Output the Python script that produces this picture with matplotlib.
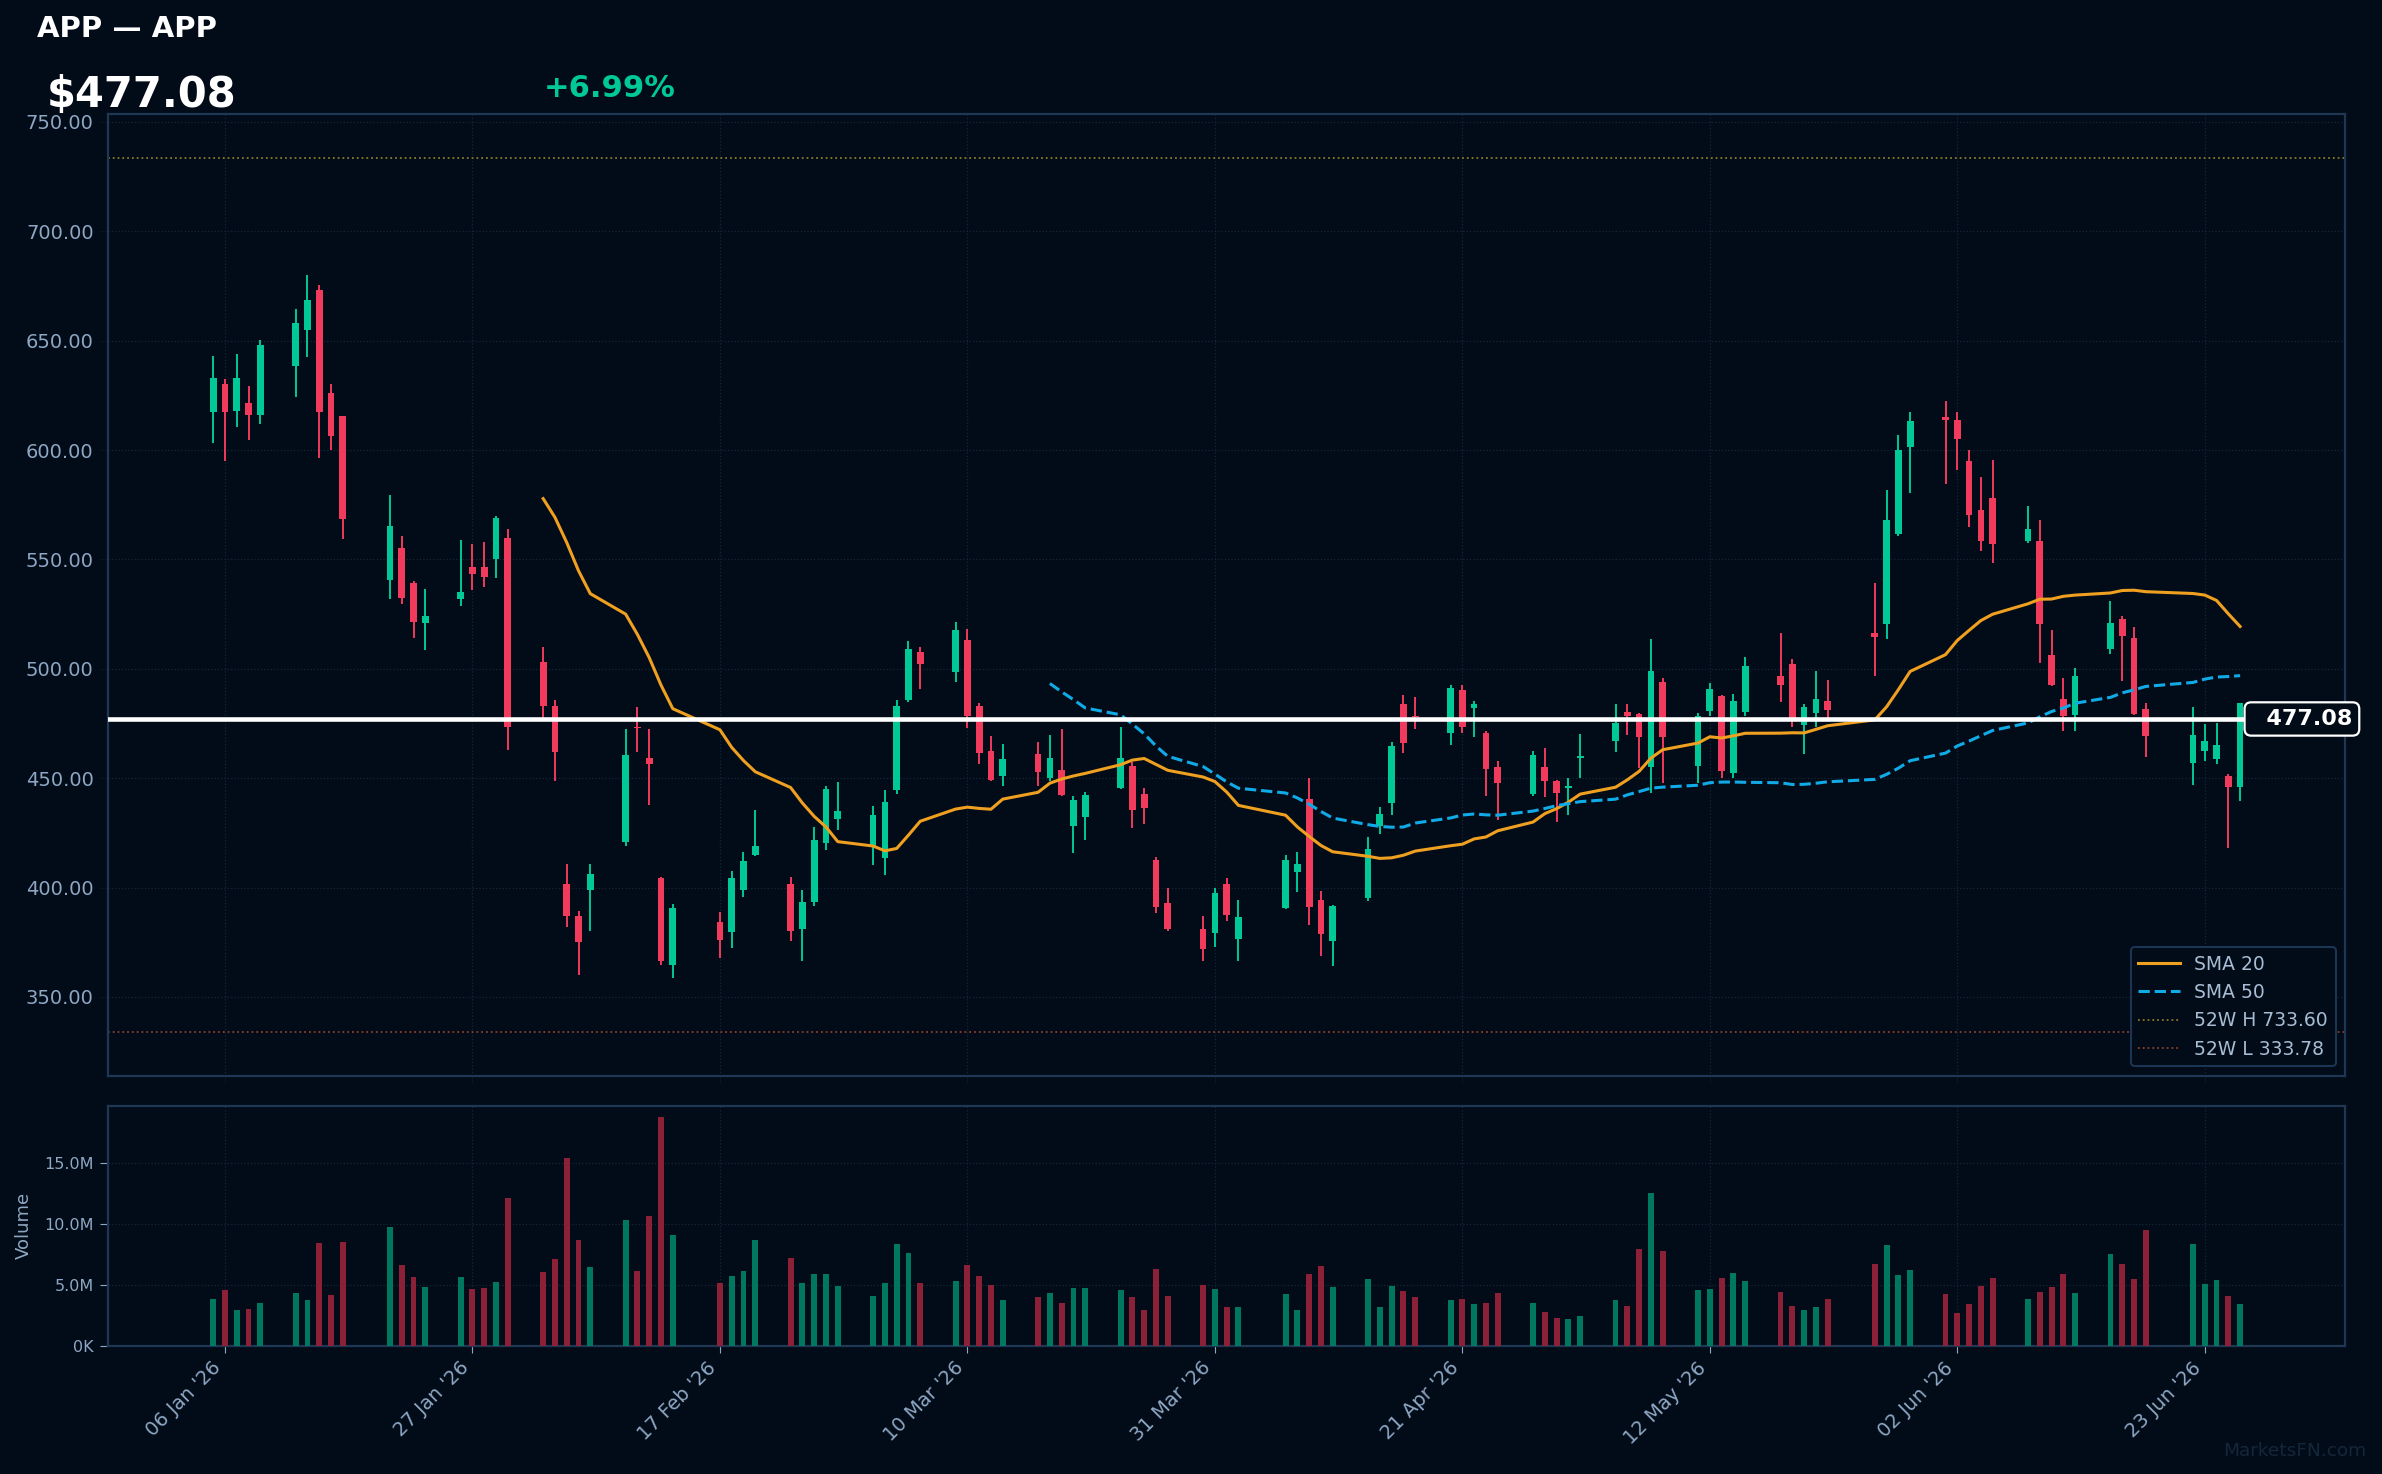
import numpy as np
import pandas as pd
import matplotlib
matplotlib.use("Agg")
import matplotlib.pyplot as plt
import matplotlib.dates as mdates
import matplotlib.transforms as mtransforms
from matplotlib.ticker import FuncFormatter, FixedLocator

# ---------------- data ----------------
TICKER = "APP"
LAST_PRICE = 477.08
CHANGE_PCT = 6.99
HIGH_52W = 733.60
LOW_52W = 333.78
HOLIDAYS = ["2026-01-19", "2026-02-16", "2026-04-03", "2026-05-25", "2026-06-19"]
START, END = "2026-01-05", "2026-06-26"

OPEN = [617.5, 630.1, 617.8, 621.7, 616.2, 638.6, 655.1, 673.0, 626.3, 615.4,
        540.7, 555.1, 539.1, 521.1, 531.7, 546.7, 546.7, 550.0, 559.6, 502.9,
        483.2, 401.8, 386.9, 399.1, 420.9, 473.5, 459.3, 404.3, 364.5, 384.1,
        379.7, 399.1, 414.8, 401.5, 381.0, 393.4, 420.5, 431.5, 418.7, 413.6,
        444.6, 485.9, 507.5, 498.5, 513.0, 483.2, 462.5, 450.8, 461.2, 450.3,
        453.8, 428.3, 432.4, 445.7, 455.7, 442.8, 412.5, 392.8, 380.9, 379.2,
        401.8, 376.3, 390.7, 407.2, 440.5, 394.2, 375.5, 395.3, 428.3, 438.8,
        484.1, 478.4, 470.5, 490.1, 482.0, 470.8, 455.2, 443.0, 455.2, 448.6,
        445.4, 459.3, 466.8, 480.4, 479.5, 454.9, 494.2, 455.8, 480.6, 487.8,
        452.6, 480.1, 496.9, 502.0, 474.2, 480.0, 485.5, 516.2, 520.5, 561.7,
        601.2, 615.3, 613.9, 595.1, 572.7, 578.2, 558.5, 558.5, 506.2, 486.1,
        478.9, 509.2, 522.7, 514.0, 481.5, 456.9, 462.4, 458.6, 450.8, 445.9]
HIGH = [643.0, 632.4, 643.8, 629.1, 650.2, 664.4, 679.9, 675.3, 630.1, 615.8,
        579.3, 560.5, 540.2, 536.3, 558.7, 556.9, 558.2, 570.0, 563.7, 509.8,
        485.9, 410.7, 389.1, 410.7, 472.6, 482.6, 472.5, 405.0, 392.4, 388.7,
        407.5, 416.2, 435.5, 404.7, 398.8, 427.7, 446.5, 448.3, 437.3, 444.5,
        485.9, 512.5, 510.2, 521.3, 518.0, 484.4, 469.4, 465.7, 466.7, 469.9,
        472.6, 441.9, 443.7, 473.5, 457.2, 445.6, 413.9, 399.7, 386.9, 399.7,
        404.3, 394.2, 414.8, 416.2, 450.2, 398.3, 392.2, 423.1, 436.9, 466.7,
        488.2, 487.3, 492.4, 492.8, 485.5, 471.7, 458.0, 462.5, 463.9, 449.1,
        450.2, 470.3, 484.1, 484.1, 480.0, 513.5, 496.0, 480.0, 493.7, 488.2,
        488.7, 505.5, 516.2, 504.7, 484.1, 499.2, 495.1, 539.2, 581.8, 607.0,
        617.6, 622.6, 617.6, 600.0, 587.8, 595.6, 574.5, 568.1, 517.7, 495.7,
        500.3, 531.0, 524.1, 519.1, 484.3, 482.4, 474.8, 475.3, 452.1, 484.6]
LOW = [603.4, 594.9, 610.6, 604.7, 612.1, 624.3, 642.6, 596.6, 600.2, 559.5,
       532.0, 529.7, 514.2, 508.7, 528.8, 536.1, 537.4, 541.7, 462.9, 476.8,
       448.5, 381.9, 359.9, 380.1, 419.1, 461.8, 437.9, 364.5, 358.6, 367.7,
       372.3, 395.7, 414.5, 375.5, 366.4, 391.6, 417.1, 426.3, 410.2, 405.7,
       442.8, 484.7, 491.0, 493.9, 472.8, 456.7, 448.5, 446.6, 446.6, 448.5,
       442.0, 415.9, 421.9, 445.0, 427.4, 429.2, 388.4, 380.1, 366.4, 372.8,
       384.7, 366.4, 390.0, 398.0, 382.7, 368.7, 364.1, 393.9, 424.6, 433.3,
       461.3, 472.3, 465.3, 470.5, 468.7, 442.0, 431.0, 442.0, 441.6, 430.1,
       433.3, 450.3, 461.8, 469.6, 454.6, 443.1, 447.6, 447.9, 478.3, 450.3,
       450.3, 478.3, 484.7, 473.2, 460.9, 473.2, 476.8, 496.8, 513.6, 560.5,
       580.6, 584.7, 590.7, 565.0, 554.0, 548.5, 557.3, 502.7, 492.2, 471.6,
       471.6, 506.9, 494.5, 478.9, 459.7, 446.9, 457.9, 456.5, 418.0, 439.8]
CLOSE = [633.0, 617.2, 633.0, 616.2, 648.0, 658.3, 668.5, 617.5, 606.5, 568.6,
         565.5, 532.5, 521.4, 524.3, 535.3, 543.5, 542.0, 569.1, 473.2, 482.9,
         461.8, 387.0, 375.1, 406.4, 460.7, 472.8, 456.7, 366.4, 390.5, 376.0,
         404.3, 412.1, 419.0, 380.1, 393.3, 421.7, 445.1, 435.0, 433.2, 439.1,
         483.2, 508.9, 502.1, 517.6, 478.3, 461.3, 449.2, 458.9, 452.9, 459.3,
         442.4, 440.1, 442.4, 459.3, 435.6, 436.5, 391.1, 381.0, 371.9, 397.7,
         387.5, 386.4, 412.5, 410.7, 391.1, 378.7, 391.4, 417.6, 433.6, 464.8,
         465.9, 477.9, 491.4, 473.2, 484.1, 454.0, 448.0, 460.7, 448.9, 443.4,
         446.5, 460.2, 475.4, 478.3, 468.7, 499.2, 468.7, 478.6, 491.0, 453.5,
         485.5, 501.5, 492.5, 476.8, 482.7, 486.4, 481.3, 514.4, 568.1, 600.2,
         613.4, 613.6, 605.2, 570.4, 558.5, 557.1, 564.0, 520.5, 492.5, 478.5,
         496.6, 520.9, 515.1, 479.4, 469.3, 469.8, 467.0, 465.2, 445.9, 484.2]
VOLUME_M = [3.84, 4.58, 2.93, 3.02, 3.51, 4.33, 3.76, 8.45, 4.17, 8.53,
            9.76, 6.64, 5.65, 4.83, 5.65, 4.66, 4.74, 5.24, 12.15, 6.06,
            7.13, 15.44, 8.69, 6.47, 10.34, 6.14, 10.67, 18.81, 9.10, 5.15,
            5.73, 6.14, 8.69, 7.21, 5.15, 5.90, 5.90, 4.91, 4.09, 5.15,
            8.36, 7.62, 5.15, 5.32, 6.64, 5.73, 4.96, 3.76, 4.00, 4.33,
            3.51, 4.74, 4.74, 4.58, 4.00, 2.93, 6.31, 4.09, 4.99, 4.66,
            3.18, 3.18, 4.25, 2.93, 5.90, 6.55, 4.83, 5.48, 3.18, 4.91,
            4.50, 4.00, 3.76, 3.84, 3.43, 3.51, 4.33, 3.51, 2.77, 2.28,
            2.19, 2.44, 3.76, 3.26, 7.95, 12.56, 7.79, 4.58, 4.66, 5.57,
            5.98, 5.32, 4.41, 3.26, 2.93, 3.18, 3.84, 6.72, 8.28, 5.81,
            6.22, 4.25, 2.69, 3.43, 4.91, 5.57, 3.84, 4.41, 4.83, 5.90,
            4.33, 7.54, 6.72, 5.48, 9.51, 8.36, 5.07, 5.40, 4.09, 3.43]
DATE_TICKS = ["2026-01-06", "2026-01-27", "2026-02-17", "2026-03-10", "2026-03-31",
              "2026-04-21", "2026-05-12", "2026-06-02", "2026-06-23"]
PRICE_TICKS = [350, 400, 450, 500, 550, 600, 650, 700, 750]
VOL_TICKS_M = [0, 5, 10, 15]

# ---------------- styling ----------------
BG = "#020c18"
SPINE = "#1e3755"
GRID = "#14263a"
TXT = "#8ea7c4"
UP = "#00c896"
DOWN = "#f23a5c"
VUP = "#00785f"
VDOWN = "#8c2037"
SMA20_C = "#f0a020"
SMA50_C = "#10aae6"

dates = pd.bdate_range(START, END, freq="C", holidays=HOLIDAYS)
x = mdates.date2num(dates.to_pydatetime())
o = np.array(OPEN); h = np.array(HIGH); l = np.array(LOW); c = np.array(CLOSE)
v = np.array(VOLUME_M) * 1e6
up = c >= o
sma20 = pd.Series(c).rolling(20).mean().values
sma50 = pd.Series(c).rolling(50).mean().values

W, H = 2382, 1474
fig = plt.figure(figsize=(W / 100, H / 100), dpi=100, facecolor=BG)
L_, R_ = 108.3 / W, 2345 / W
ax = fig.add_axes([L_, 1 - 1075.5 / H, R_ - L_, (1075.5 - 114.3) / H])
axv = fig.add_axes([L_, 1 - 1345.7 / H, R_ - L_, (1345.7 - 1105.7) / H], sharex=ax)

for a in (ax, axv):
    a.set_facecolor(BG)
    for s in a.spines.values():
        s.set_color(SPINE)
        s.set_linewidth(1.6)
    a.grid(True, color=GRID, linestyle=":", linewidth=0.9)
    a.set_axisbelow(True)

# candles
col = np.where(up, UP, DOWN)
ax.vlines(x, l, h, colors=col, linewidth=1.4, zorder=3)
body = np.maximum(np.abs(c - o), 0.6)
ax.bar(x, body, bottom=np.minimum(o, c), width=0.57, color=col, linewidth=0, zorder=3)

# SMAs and levels
ax.plot(x, sma20, color=SMA20_C, lw=2.2, label="SMA 20", zorder=4)
ax.plot(x, sma50, color=SMA50_C, lw=2.2, ls="--", label="SMA 50", zorder=4)
ax.axhline(HIGH_52W, color="#8a7a2a", ls=":", lw=1.3, label=f"52W H {HIGH_52W:.2f}", zorder=2)
ax.axhline(LOW_52W, color="#8f3e2c", ls=":", lw=1.3, label=f"52W L {LOW_52W:.2f}", zorder=2)
ax.axhline(LAST_PRICE, color="white", lw=3.3, zorder=6)

trans = mtransforms.blended_transform_factory(ax.transAxes, ax.transData)
ax.text(1.0034, LAST_PRICE, f"  {LAST_PRICE:.2f}", transform=trans, ha="right", va="center",
        fontsize=16, fontweight="bold", color="white", zorder=10, clip_on=False,
        bbox=dict(boxstyle="round,pad=0.3", fc=BG, ec="white", lw=1.6))

ax.set_ylim(314.1, 753.5)
ax.yaxis.set_major_locator(FixedLocator(PRICE_TICKS))
ax.yaxis.set_major_formatter(FuncFormatter(lambda val, p: f"{val:.2f}"))
ax.tick_params(axis="y", colors="#0a1420", labelcolor=TXT, labelsize=14, length=5.5, pad=5)
ax.tick_params(axis="x", colors="#0a1420", length=5.5, labelbottom=False)

leg = ax.legend(loc="lower right", fontsize=13.5, facecolor=BG, edgecolor="#1e3a5a",
                labelcolor="#a8bcd4", framealpha=0.95, handlelength=2.2, borderaxespad=0.5)
leg.get_frame().set_linewidth(1.4)

# volume
axv.bar(x, v, width=0.5, color=np.where(up, VUP, VDOWN), linewidth=0, zorder=3)
axv.set_ylim(0, v.max() * 1.05)
axv.yaxis.set_major_locator(FixedLocator([t * 1e6 for t in VOL_TICKS_M]))
axv.yaxis.set_major_formatter(FuncFormatter(lambda val, p: "0K" if val == 0 else f"{val / 1e6:.1f}M"))
axv.tick_params(axis="y", colors=TXT, labelcolor=TXT, labelsize=11.5, length=5.5, pad=5)
axv.set_ylabel("Volume", color=TXT, fontsize=13, labelpad=8)

axv.set_xlim(x[0] - 8.9, x[-1] + 8.9)
axv.xaxis.set_major_locator(FixedLocator(mdates.date2num(pd.to_datetime(DATE_TICKS).to_pydatetime())))
axv.xaxis.set_major_formatter(mdates.DateFormatter("%d %b '%y"))
axv.tick_params(axis="x", colors=TXT, labelcolor=TXT, labelsize=14, length=5, pad=4)
for lab in axv.get_xticklabels():
    lab.set_rotation(45)
    lab.set_ha("right")

# header
fig.text(0.0154, 0.9747, f"{TICKER} — {TICKER}", fontsize=21, fontweight="bold", color="white", va="baseline")
fig.text(0.0197, 0.9274, f"${LAST_PRICE:.2f}", fontsize=30, fontweight="bold", color="white", va="baseline")
fig.text(0.2281, 0.934, f"+{CHANGE_PCT:.2f}%", fontsize=22, fontweight="bold", color=UP, va="baseline")
fig.text(0.9935, 0.0122, "MarketsFN.com", fontsize=13.3, color="#15263a", ha="right", va="baseline")

fig.savefig("out.png", dpi=100, facecolor=BG)
